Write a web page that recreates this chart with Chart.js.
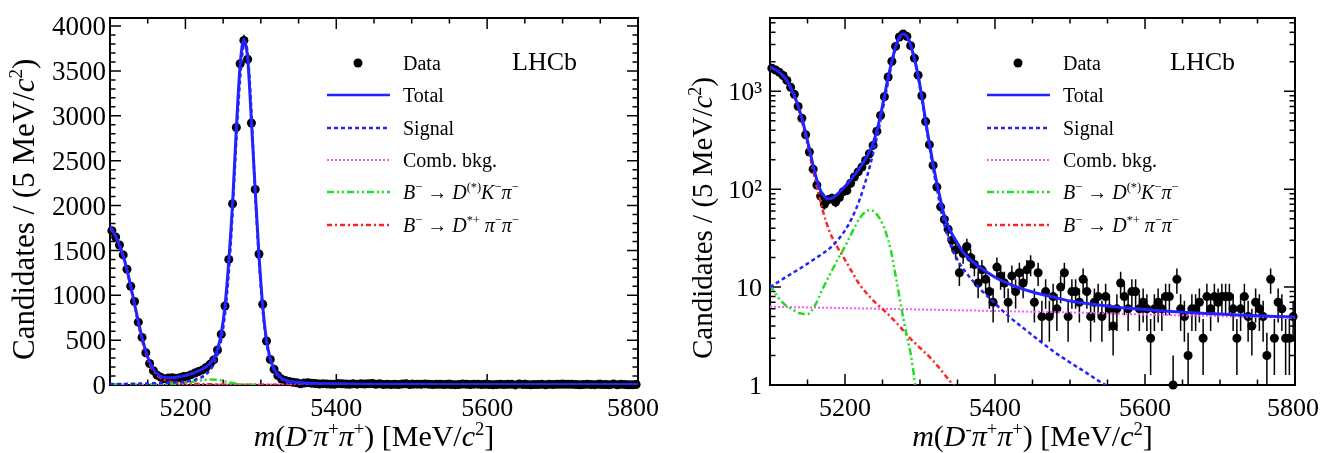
<!DOCTYPE html>
<html><head><meta charset="utf-8">
<script src="https://cdn.jsdelivr.net/npm/chart.js@4.4.1/dist/chart.umd.min.js"></script>
<style>
html,body{margin:0;padding:0;background:#fff;}
#wrap{position:relative;width:1320px;height:453px;background:#fff;}
.pane{position:absolute;top:0;width:660px;height:453px;}
</style></head><body>
<div id="wrap">
<div class="pane" style="left:0"><canvas id="c1" width="660" height="453"></canvas></div>
<div class="pane" style="left:660px"><canvas id="c2" width="660" height="453"></canvas></div>
</div>
<script>
// ---------------- DATA ----------------
const binCenters = [
5102.5,5107.5,5112.5,5117.5,5122.5,5127.5,5132.5,5137.5,5142.5,5147.5,
5152.5,5157.5,5162.5,5167.5,5172.5,5177.5,5182.5,5187.5,5192.5,5197.5,
5202.5,5207.5,5212.5,5217.5,5222.5,5227.5,5232.5,5237.5,5242.5,5247.5,
5252.5,5257.5,5262.5,5267.5,5272.5,5277.5,5282.5,5287.5,5292.5,5297.5,
5302.5,5307.5,5312.5,5317.5,5322.5,5327.5,5332.5,5337.5,5342.5,5347.5,
5352.5,5357.5,5362.5,5367.5,5372.5,5377.5,5382.5,5387.5,5392.5,5397.5,
5402.5,5407.5,5412.5,5417.5,5422.5,5427.5,5432.5,5437.5,5442.5,5447.5,
5452.5,5457.5,5462.5,5467.5,5472.5,5477.5,5482.5,5487.5,5492.5,5497.5,
5502.5,5507.5,5512.5,5517.5,5522.5,5527.5,5532.5,5537.5,5542.5,5547.5,
5552.5,5557.5,5562.5,5567.5,5572.5,5577.5,5582.5,5587.5,5592.5,5597.5,
5602.5,5607.5,5612.5,5617.5,5622.5,5627.5,5632.5,5637.5,5642.5,5647.5,
5652.5,5657.5,5662.5,5667.5,5672.5,5677.5,5682.5,5687.5,5692.5,5697.5,
5702.5,5707.5,5712.5,5717.5,5722.5,5727.5,5732.5,5737.5,5742.5,5747.5,
5752.5,5757.5,5762.5,5767.5,5772.5,5777.5,5782.5,5787.5,5792.5,5797.5];

const counts = [
1720,1650,1560,1450,1290,1100,930,700,530,360,
240,160,110,85,70,78,81,74,82,94,
97,115,133,150,168,196,230,280,390,565,
880,1400,2020,2870,3580,3840,3630,2920,2180,1460,
900,490,285,175,105,66,49,39,30,24,
14,22,26,20,17,11,15,12,9,7,
16,13,11,7,13,9,14,11,15,17,
7,14,5,9,5,8,6,10,14,5,
9,9,7,12,9,5,7,8,5,8,
6,4,6,11,8,6,9,9,6,7,
6,3,6,7,6,8,8,1,12,6,
5,2,6,6,7,3,8,6,8,7,
8,8,8,6,3,6,8,5,4,7,
6,5,2,12,3,7,6,3,3,5];

const totalMass = [5100,5102.5,5107.5,5112.5,5117.5,5122.5,5127.5,5132.5,5137.5,5142.5,5147.5,
5152.5,5157.5,5162.5,5167.5,5172.5,5177.5,5182.5,5187.5,5192.5,5197.5,
5202.5,5207.5,5212.5,5217.5,5222.5,5227.5,5232.5,5237.5,5242.5,5247.5,
5252.5,5257.5,5262.5,5267.5,5272.5,5277.5,5282.5,5287.5,5292.5,5297.5,
5302.5,5307.5,5312.5,5317.5,5322.5,5327.5,5332.5,5337.5,5342.5,5347.5,
5360,5375,5400,5425,5450,5475,5500,5525,5550,5575,5600,5625,5650,5675,5700,5725,5750,5775,5800];
const totalVals = [1770,1735,1660,1560,1440,1285,1100,905,710,530,375,
258,175,124,96,84,80,81,86,93,102,
112,124,139,157,178,204,240,295,395,575,
885,1385,2025,2860,3560,3850,3640,2940,2170,1450,
880,500,295,180,115,77,53,42,35,30,
21.5,17,12.6,10.3,8.9,8.0,7.2,6.75,6.4,6.1,5.9,5.7,5.55,5.4,5.3,5.2,5.1,5.02,4.95];

const signalMass = [5100,5120,5140,5160,5180,5190,5200,5210,5220,5225,5230,5235,5240,5245,5250,5255,5260,5265,5270,5275,5279,5283,5287,5292,5297,5302,5307,5312,5317,5322,5327,5332,5340,5350,5365,5380,5400,5420,5440,5460,5480,5500,5520,5540,5560,5580];
const signalVals = [10,12.5,15.5,19.5,25,30,38,52,80,105,140,195,280,410,630,1000,1560,2330,3100,3650,3830,3650,3120,2220,1460,880,500,290,172,106,67,45,28,19,13,9.6,6.8,4.9,3.7,2.8,2.15,1.7,1.36,1.08,0.88,0.72];

const combMass = [5100,5200,5300,5400,5500,5600,5700,5800];
const combVals = [6.3,6.1,5.9,5.7,5.5,5.25,5.05,4.85];

const dkpiMass = [5100,5110,5120,5130,5140,5150,5160,5170,5180,5190,5200,5210,5220,5228,5234,5240,5247,5254,5261,5268,5275,5282,5288,5293,5298];
const dkpiVals = [10.5,8,6.6,5.9,5.4,5.3,6.5,9.5,13.5,19,26,37,51,59,61,58,49,37,24,12.5,6.2,3.3,2.0,1.1,0.6];

const dstpipiMass = [5100,5105,5110,5115,5120,5125,5130,5135,5140,5145,5150,5155,5160,5165,5170,5175,5180,5185,5190,5200,5210,5220,5240,5255,5270,5285,5300,5318,5342,5360];
const dstpipiVals = [1745,1690,1610,1500,1360,1185,985,780,585,415,285,190,128,88,62,46,36,30,25.5,19,14,10.5,7,5.5,4.2,3.1,2.4,1.75,1.05,0.75];

const xLabelTicks = [5200,5400,5600,5800];
const yLinTicks = [0,500,1000,1500,2000,2500,3000,3500,4000];
const yLogTicks = [1,10,100,1000];
const yLogLabels = ['1','10','10\u00B2','10\u00B3'];

// ---------------- STYLE / HELPERS ----------------
const SERIF = '"Liberation Serif","Times New Roman",serif';
const BLUE = '#2323ff', MAG = '#ff55ff', GREEN = '#22dd22', RED = '#ff2020';
const pairs = (xs, ys) => xs.map((x, i) => ({x: x, y: ys[i]}));

function fontFor(s, size){ const sz = s.s ? size*0.62 : size; return (s.i ? 'italic ' : '') + sz.toFixed(1) + 'px ' + SERIF; }
function richWidth(ctx, segs, size){ let w = 0; for (const s of segs){ ctx.font = fontFor(s,size); w += ctx.measureText(s.t).width; } return w; }
function drawRich(ctx, segs, x, y, size, align){
  const w = richWidth(ctx, segs, size);
  let cx = align === 'center' ? x - w/2 : (align === 'right' ? x - w : x);
  ctx.textAlign = 'left'; ctx.textBaseline = 'alphabetic'; ctx.fillStyle = '#000';
  for (const s of segs){ ctx.font = fontFor(s,size); ctx.fillText(s.t, cx, s.s ? y - size*0.38 : y); cx += ctx.measureText(s.t).width; }
}

const xTitle = [{t:'m',i:1},{t:'(' },{t:'D',i:1},{t:'-',s:1},{t:'\u03C0',i:1},{t:'+',s:1},{t:'\u03C0',i:1},{t:'+',s:1},{t:') [MeV/'},{t:'c',i:1},{t:'2',s:1},{t:']'}];
const yTitle = [{t:'Candidates / (5 MeV/'},{t:'c',i:1},{t:'2',s:1},{t:')'}];
const legendItems = [
  {kind:'dot', text:[{t:'Data'}]},
  {kind:'line', color:BLUE, dash:[], width:2.5, text:[{t:'Total'}]},
  {kind:'line', color:BLUE, dash:[4,3], width:2.5, text:[{t:'Signal'}]},
  {kind:'line', color:MAG, dash:[2,2], width:2, text:[{t:'Comb. bkg.'}]},
  {kind:'line', color:GREEN, dash:[7,3,2,3,2,3], width:2.5, text:[{t:'B',i:1},{t:'\u2212',s:1},{t:' \u2192 '},{t:'D',i:1},{t:'(*)',s:1},{t:'K',i:1},{t:'\u2212',s:1},{t:'\u03C0',i:1},{t:'\u2212',s:1}]},
  {kind:'line', color:RED, dash:[5,3,2,3], width:2.5, text:[{t:'B',i:1},{t:'\u2212',s:1},{t:' \u2192 '},{t:'D',i:1},{t:'*+',s:1},{t:' \u03C0',i:1},{t:'\u2212',s:1},{t:'\u03C0',i:1},{t:'\u2212',s:1}]}
];

function overlayPlugin(isLog, cfg){
  return {
    id:'overlay',
    beforeDatasetsDraw(chart){
      const {ctx, chartArea:a} = chart; const xs = chart.scales.x, ys = chart.scales.y;
      ctx.save();
      ctx.strokeStyle = '#000'; ctx.lineWidth = 1.5;
      ctx.beginPath();
      for (let m = 5100; m <= 5800; m += 50){
        const px = xs.getPixelForValue(m); const L = (m % 200 === 0) ? 11 : 5.5;
        ctx.moveTo(px, a.bottom); ctx.lineTo(px, a.bottom - L);
        ctx.moveTo(px, a.top); ctx.lineTo(px, a.top + L);
      }
      const yt = [];
      if (isLog){
        for (const d of yLogTicks){ for (let k = 1; k <= 9; k++){ const v = d*k; if (v <= ys.max) yt.push([v, k === 1 ? 11 : 5.5]); } }
      } else {
        for (let v = 0; v <= ys.max; v += 100) yt.push([v, v % 500 === 0 ? 11 : 5.5]);
      }
      for (const [v, L] of yt){
        const py = ys.getPixelForValue(v);
        ctx.moveTo(a.left, py); ctx.lineTo(a.left + L, py);
        ctx.moveTo(a.right, py); ctx.lineTo(a.right - L, py);
      }
      ctx.stroke();
      ctx.lineWidth = 2;
      ctx.strokeRect(a.left, a.top, a.right - a.left, a.bottom - a.top);
      // error bars
      ctx.lineWidth = 1.5;
      ctx.beginPath();
      for (let i = 0; i < counts.length; i++){
        const n = counts[i], e = Math.sqrt(n);
        const px = xs.getPixelForValue(binCenters[i]);
        const lo = n - e, hi = n + e;
        const pyLo = (isLog && lo <= ys.min) ? a.bottom : Math.min(a.bottom, ys.getPixelForValue(lo));
        const pyHi = Math.max(a.top, ys.getPixelForValue(hi));
        ctx.moveTo(px, pyLo); ctx.lineTo(px, pyHi);
      }
      ctx.stroke();
      ctx.restore();
    },
    afterDraw(chart){
      const {ctx, chartArea:a} = chart; const xs = chart.scales.x, ys = chart.scales.y;
      ctx.save();
      // tick labels
      ctx.fillStyle = '#000'; ctx.font = cfg.tickSize + 'px ' + SERIF; ctx.textBaseline = 'alphabetic';
      ctx.textAlign = 'center';
      for (const v of xLabelTicks){
        const s = String(v); const w = ctx.measureText(s).width;
        let px = xs.getPixelForValue(v);
        px = Math.min(px, chart.width - 1 - w/2);
        ctx.fillText(s, px, cfg.xLabelBase);
      }
      ctx.font = cfg.yTickSize + 'px ' + SERIF;
      ctx.textAlign = 'right';
      if (isLog){
        yLogTicks.forEach((v, k) => { ctx.fillText(yLogLabels[k], a.left - cfg.yPad, ys.getPixelForValue(v) + cfg.yTickSize*0.34); });
      } else {
        for (const v of yLinTicks){ ctx.fillText(String(v), a.left - cfg.yPad, ys.getPixelForValue(v) + cfg.yTickSize*0.34); }
      }
      // legend
      const rows = [63, 95, 128, 160, 192, 225];
      legendItems.forEach((it, k) => {
        const y = rows[k];
        if (it.kind === 'dot'){
          ctx.fillStyle = '#000'; ctx.beginPath(); ctx.arc(358, y, 4.5, 0, Math.PI*2); ctx.fill();
        } else {
          ctx.strokeStyle = it.color; ctx.lineWidth = it.width; ctx.setLineDash(it.dash);
          ctx.beginPath(); ctx.moveTo(327, y); ctx.lineTo(390, y); ctx.stroke(); ctx.setLineDash([]);
        }
        drawRich(ctx, it.text, 403, y + 7, cfg.legendSize, 'left');
      });
      // LHCb
      ctx.fillStyle = '#000'; ctx.font = cfg.lhcbSize + 'px ' + SERIF; ctx.textAlign = 'left'; ctx.textBaseline = 'alphabetic';
      ctx.fillText('LHCb', cfg.lhcbX, 70);
      // x title
      drawRich(ctx, xTitle, (a.left + a.right)/2, cfg.xTitleY, cfg.xTitleSize, 'center');
      // y title
      ctx.save(); ctx.translate(cfg.yTitleX, cfg.yTitleBottom); ctx.rotate(-Math.PI/2);
      drawRich(ctx, yTitle, 0, cfg.yTitleSize*0.35, cfg.yTitleSize, 'left');
      ctx.restore();
      ctx.restore();
    }
  };
}

function makeChart(id, isLog, cfg){
  const curve = (label, xs, ys, color, dash, width, order) => ({
    label: label, data: pairs(xs, ys), borderColor: color, borderDash: dash, borderWidth: width,
    pointRadius: 0, fill: false, cubicInterpolationMode: 'monotone', order: order, clip: 0
  });
  const datasets = [
    {label:'Data', data: pairs(binCenters, counts), showLine:false, pointRadius:4.5, pointHoverRadius:4.5,
     pointBackgroundColor:'#000', pointBorderColor:'#000', pointBorderWidth:0, order:10, clip:false},
    curve('Comb. bkg.', combMass, combVals, MAG, [2,2], 2, 5),
    curve('B- -> D*+ pi- pi-', dstpipiMass, dstpipiVals, RED, [5,3,2,3], 2.5, 4),
    curve('B- -> D(*) K- pi-', dkpiMass, dkpiVals, GREEN, [7,3,2,3,2,3], 2.5, 3),
    curve('Signal', signalMass, signalVals, BLUE, [4,3], 2.5, 2),
    curve('Total', totalMass, totalVals, BLUE, [], 3, 1)
  ];
  const common = { ticks:{display:false}, grid:{display:false, drawTicks:false}, border:{display:false} };
  const yScale = isLog ? Object.assign({type:'logarithmic', min:1, max:5600, afterFit: s => { s.width = 110; }}, common)
                       : Object.assign({type:'linear', min:0, max:4090, afterFit: s => { s.width = 110; }}, common);
  return new Chart(document.getElementById(id), {
    type:'line',
    data:{datasets: datasets},
    options:{
      responsive:false, animation:false, devicePixelRatio:1,
      layout:{padding:{left:0, right:cfg.padRight, top:18, bottom:0}},
      plugins:{legend:{display:false}, tooltip:{enabled:false}},
      scales:{
        x: Object.assign({ type:'linear', min:5100, max:5800, afterFit: s => { s.height = 68; } }, common),
        y: yScale
      }
    },
    plugins:[overlayPlugin(isLog, cfg)]
  });
}

makeChart('c1', false, {padRight:22, tickSize:26, yTickSize:27, yPad:4, xLabelBase:416, legendSize:20, lhcbSize:26, lhcbX:512, xTitleY:446, xTitleSize:30, yTitleX:23, yTitleBottom:360, yTitleSize:31});
makeChart('c2', true,  {padRight:25, tickSize:26, yTickSize:26, yPad:8, xLabelBase:416, legendSize:20, lhcbSize:26, lhcbX:510, xTitleY:446, xTitleSize:30, yTitleX:42, yTitleBottom:359, yTitleSize:29});
</script>
</body></html>
